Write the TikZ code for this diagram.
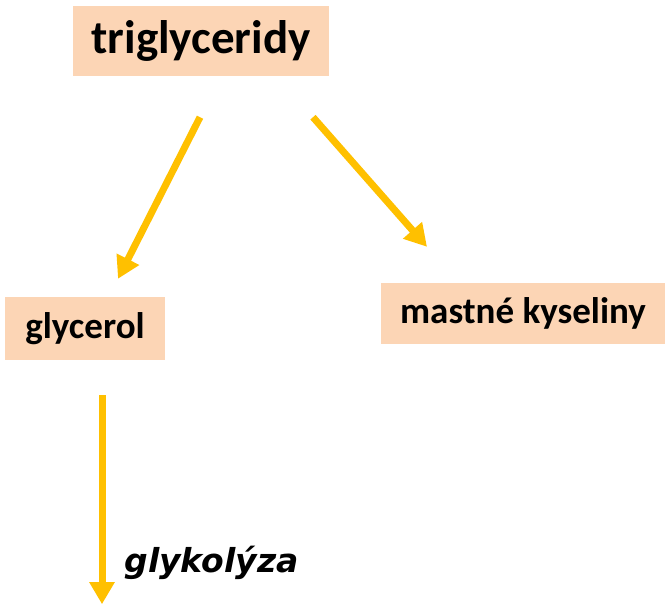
\documentclass[tikz,border=0pt]{standalone}
\usepackage{fontspec}
\usepackage{tikz}
\usetikzlibrary{arrows.meta, positioning}
\newfontfamily\calfont{Carlito}
\newfontfamily\verdfont{DejaVu Sans}
\definecolor{peach}{HTML}{FCD5B5}
\definecolor{amber}{HTML}{FFC000}

\begin{document}
\begin{tikzpicture}[x=1pt, y=-1pt]
		\tikzstyle{SourceName} = [rectangle, minimum width=256pt, minimum height=70pt, text centered, fill=peach, font=\calfont\bfseries\fontsize{47}{50}\selectfont]
		\tikzstyle{ProductName} = [rectangle, minimum height=62pt, text centered, fill=peach, font=\calfont\bfseries\fontsize{37}{40}\selectfont]
		\tikzstyle{ProcessName} = [font=\verdfont\bfseries\itshape\fontsize{33}{36}\selectfont]
		\tikzstyle{arrow} = [line width=7pt, draw=amber, -{Triangle[length=22pt, width=24pt]}]
		
		\useasboundingbox (0,0) rectangle (665,605);
		
		\node (trig) [SourceName] at (201,41) {triglyceridy};
		
		\node (gly) [ProductName, minimum width=160pt, minimum height=63pt] at (85,328.5) {glycerol};
		\node (mast) [ProductName, minimum width=284pt, minimum height=61pt] at (523,313.5) {mastné kyseliny};
		
		\node (glyk) [ProcessName, anchor=base west] at (121,572) {glykolýza};
		
		\draw[arrow] ([shift={(-1,41)}]trig.south) -- ([shift={(33,-18)}]gly.north);
		\draw[arrow] ([shift={(112,41)}]trig.south) -- ([shift={(-96,-36)}]mast.north);
		\draw[arrow] ([shift={(17,35)}]gly.south) -- ([shift={(17,244)}]gly.south);
		\end{tikzpicture}
\end{document}
